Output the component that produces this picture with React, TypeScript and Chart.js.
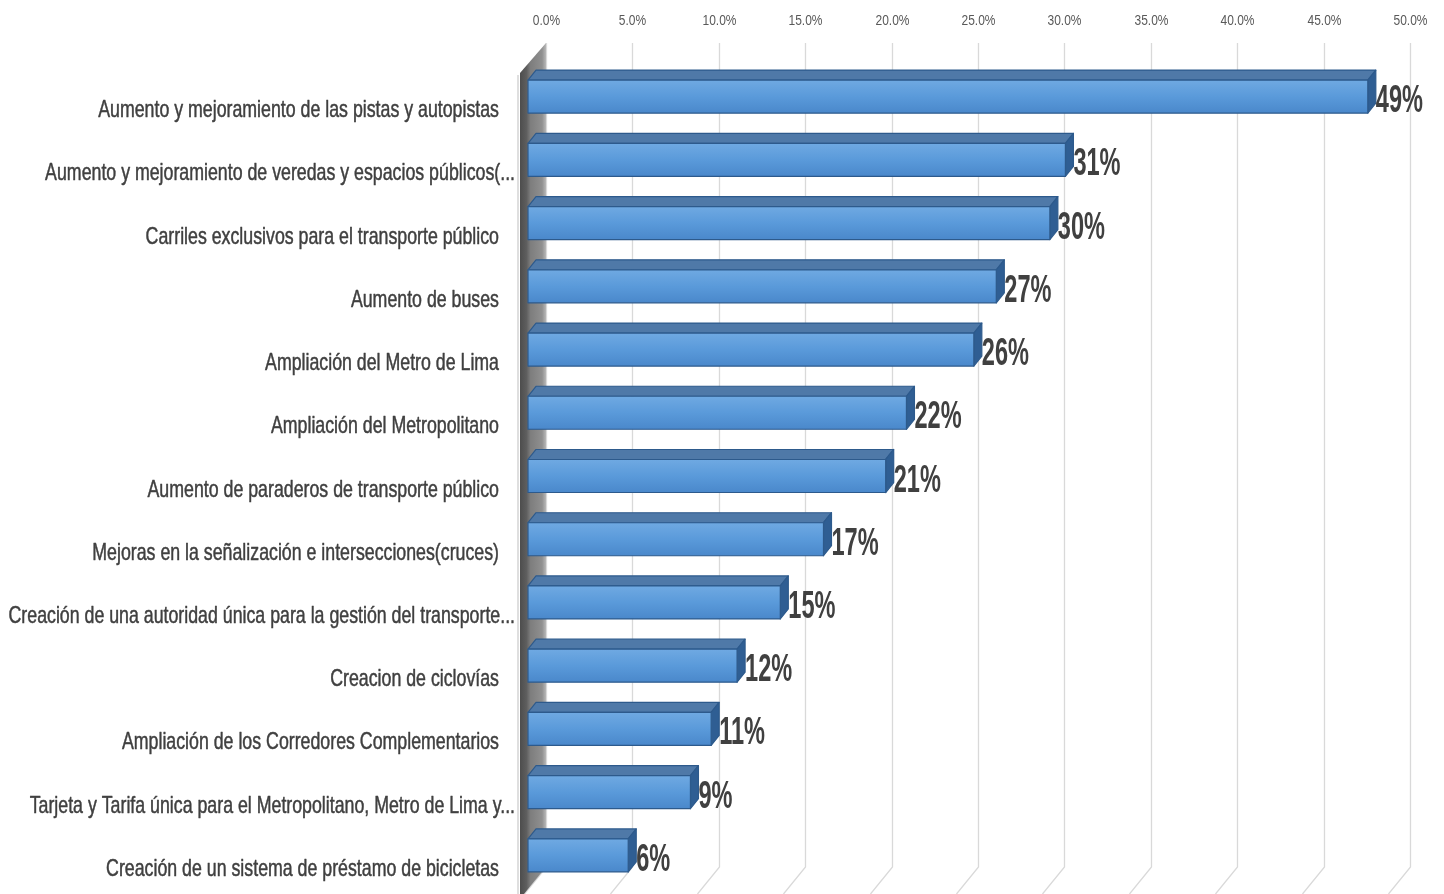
import React, { useEffect, useRef } from "react";
import { Chart, registerables } from "chart.js";

Chart.register(...registerables);

const categories: string[] = [
  "Aumento y mejoramiento de las pistas y autopistas",
  "Aumento y mejoramiento de veredas y espacios públicos(...",
  "Carriles exclusivos para el transporte público",
  "Aumento de buses",
  "Ampliación del Metro de Lima",
  "Ampliación del Metropolitano",
  "Aumento de paraderos de transporte público",
  "Mejoras en la señalización e intersecciones(cruces)",
  "Creación de una autoridad única para la gestión del transporte...",
  "Creacion de ciclovías",
  "Ampliación de los Corredores Complementarios",
  "Tarjeta y Tarifa única para el Metropolitano, Metro de Lima y...",
  "Creación de un sistema de préstamo de bicicletas",
];

// percentages
const values: number[] = [48.6, 31.1, 30.2, 27.1, 25.8, 21.9, 20.7, 17.1, 14.6, 12.1, 10.6, 9.4, 5.8];

const axisMin = 0;
const axisMax = 50;
const axisStep = 5;

const FONT = "'Liberation Sans', Arial, sans-serif";

// 3D style parameters
const FRONT_SHIFT = -18;
const DEPTH_X = 8;
const DEPTH_Y = -10;
const GRID_TOP_EXT = 22;
const GRID_BOTTOM_CUT = 20;
const FLOOR_DX = -22;
const FLOOR_DY = 27;

function condensedText(
  ctx: any,
  text: string,
  x: number,
  y: number,
  font: string,
  color: string,
  align: string,
  sx: number,
  strokeW = 0
) {
  ctx.save();
  ctx.font = font;
  ctx.fillStyle = color;
  ctx.textBaseline = "alphabetic";
  ctx.textAlign = align;
  ctx.translate(x, y);
  ctx.scale(sx, 1);
  ctx.fillText(text, 0, 0);
  if (strokeW > 0) {
    ctx.strokeStyle = color;
    ctx.lineWidth = strokeW;
    ctx.lineJoin = "round";
    ctx.strokeText(text, 0, 0);
  }
  ctx.restore();
}

const backdropPlugin = {
  id: "backdrop3d",
  beforeDatasetsDraw(chart: any) {
    const { ctx, chartArea, scales } = chart;
    const xs = scales.x;
    const gTop = chartArea.top - GRID_TOP_EXT;
    const gBot = chartArea.bottom - GRID_BOTTOM_CUT;
    ctx.save();
    // gridlines + top tick labels
    ctx.strokeStyle = "#d9d9d9";
    ctx.lineWidth = 1.3;
    xs.ticks.forEach((t: any) => {
      const px = Math.round(xs.getPixelForValue(t.value)) + 0.5;
      ctx.beginPath();
      ctx.moveTo(px, gTop);
      ctx.lineTo(px, gBot);
      ctx.lineTo(px + FLOOR_DX, gBot + FLOOR_DY);
      ctx.stroke();
      condensedText(ctx, `${Number(t.value).toFixed(1)}%`, px, gTop - 18.5, `15px ${FONT}`, "#595959", "center", 0.8);
    });
    // side wall
    const p0 = xs.getPixelForValue(axisMin);
    const wl = p0 - 26;
    const grad = ctx.createLinearGradient(wl, 0, p0, 0);
    grad.addColorStop(0, "#4d4d4d");
    grad.addColorStop(0.25, "#5e5e5e");
    grad.addColorStop(0.4, "#7d7d7d");
    grad.addColorStop(0.85, "#909090");
    grad.addColorStop(1, "#b8b8b8");
    ctx.fillStyle = grad;
    ctx.beginPath();
    ctx.moveTo(p0, gTop);
    ctx.lineTo(p0, gBot);
    ctx.lineTo(p0 + FLOOR_DX, gBot + FLOOR_DY);
    ctx.lineTo(wl, gBot + FLOOR_DY);
    ctx.lineTo(wl, gTop + 30);
    ctx.closePath();
    ctx.fill();
    ctx.strokeStyle = "#d4d4d4";
    ctx.lineWidth = 1.5;
    ctx.beginPath();
    ctx.moveTo(wl - 2, gTop + 32);
    ctx.lineTo(wl - 2, chart.height);
    ctx.stroke();
    ctx.restore();
  },
  afterDatasetsDraw(chart: any) {
    const { ctx, chartArea, scales } = chart;
    const ys = scales.y;
    const meta = chart.getDatasetMeta(0);
    const data = chart.data.datasets[0].data as number[];
    ctx.save();
    // category labels
    (chart.data.labels as string[]).forEach((lab, i) => {
      const py = ys.getPixelForTick(i) + 20.5;
      const right = chartArea.left - 31 - (lab.endsWith("...") ? 0 : 16);
      condensedText(ctx, lab, right, py, `24px ${FONT}`, "#404040", "right", 0.74, 0.5);
    });
    meta.data.forEach((el: any, i: number) => {
      const { x, y, base, height } = el.getProps(["x", "y", "base", "height"], true);
      const l = base + FRONT_SHIFT;
      const r = x + FRONT_SHIFT;
      const t = y - height / 2;
      const b = y + height / 2;
      ctx.lineJoin = "round";
      ctx.lineWidth = 1.2;
      ctx.strokeStyle = "#2d5a8c";
      // top face
      ctx.fillStyle = "#4f79a8";
      ctx.beginPath();
      ctx.moveTo(l, t);
      ctx.lineTo(l + DEPTH_X, t + DEPTH_Y);
      ctx.lineTo(r + DEPTH_X, t + DEPTH_Y);
      ctx.lineTo(r, t);
      ctx.closePath();
      ctx.fill();
      ctx.stroke();
      // side face
      ctx.fillStyle = "#2f5e93";
      ctx.beginPath();
      ctx.moveTo(r, t);
      ctx.lineTo(r + DEPTH_X, t + DEPTH_Y);
      ctx.lineTo(r + DEPTH_X, b + DEPTH_Y);
      ctx.lineTo(r, b);
      ctx.closePath();
      ctx.fill();
      ctx.stroke();
      // front face
      const g = ctx.createLinearGradient(0, t, 0, b);
      g.addColorStop(0, "#6fa9e2");
      g.addColorStop(0.5, "#5a9ada");
      g.addColorStop(1, "#4a88cb");
      ctx.fillStyle = g;
      ctx.fillRect(l, t, r - l, b - t);
      ctx.strokeRect(l, t, r - l, b - t);
      // value label
      condensedText(ctx, `${Math.round(data[i])}%`, r + DEPTH_X, y + 15.5, `bold 38px ${FONT}`, "#404040", "left", 0.62);
    });
    ctx.restore();
  },
};

export default function App() {
  const ref = useRef<HTMLCanvasElement | null>(null);
  useEffect(() => {
    if (!ref.current) return;
    const chart = new Chart(ref.current, {
      type: "bar",
      data: {
        labels: categories,
        datasets: [
          {
            data: values,
            backgroundColor: "rgba(0,0,0,0)",
            borderWidth: 0,
            barPercentage: 0.522,
            categoryPercentage: 1,
          },
        ],
      },
      options: {
        indexAxis: "y",
        animation: false,
        responsive: true,
        maintainAspectRatio: false,
        layout: { padding: { left: 0, right: 34, top: 0, bottom: 7 } },
        plugins: { legend: { display: false }, tooltip: { enabled: false } },
        scales: {
          x: {
            position: "top",
            min: axisMin,
            max: axisMax,
            grid: { display: false, drawTicks: false },
            border: { display: false },
            ticks: { stepSize: axisStep, display: false },
            afterFit: (s: any) => {
              s.height = 65;
            },
          },
          y: {
            grid: { display: false, drawTicks: false },
            border: { display: false },
            ticks: { display: false, autoSkip: false },
            afterFit: (s: any) => {
              s.width = 546;
            },
          },
        },
      },
      plugins: [backdropPlugin],
    } as any);
    return () => chart.destroy();
  }, []);
  return (
    <div style={{ position: "fixed", left: 0, top: 0, width: 1444, height: 894, background: "#fff" }}>
      <canvas ref={ref} />
    </div>
  );
}
